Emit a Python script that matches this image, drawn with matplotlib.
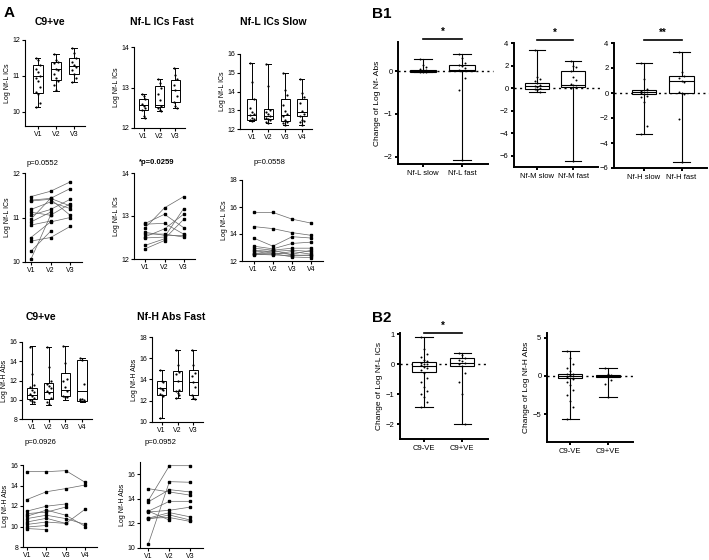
import numpy as np
import matplotlib
matplotlib.use("Agg")
import matplotlib.pyplot as plt
from matplotlib.transforms import blended_transform_factory

plt.rcParams["font.family"] = ["Liberation Sans", "DejaVu Sans"]

W, H = 709, 560

visits3 = ["V1", "V2", "V3"]
visits4 = ["V1", "V2", "V3", "V4"]

# ---------- panel A : box stats per visit = [min, q1, median, q3, max]
c9_nfl_box = [[10.12, 10.53, 10.99, 11.31, 11.50],
              [10.59, 10.87, 11.18, 11.39, 11.60],
              [10.83, 11.04, 11.27, 11.51, 11.79]]
c9_nfl_pts = [[11.50, 11.45, 11.30, 11.20, 11.10, 11.00, 10.95, 10.85, 10.70, 10.55, 10.50, 10.25, 10.12],
              [11.60, 11.45, 11.40, 11.35, 11.20, 11.15, 11.05, 10.95, 10.85, 10.75, 10.60],
              [11.79, 11.65, 11.50, 11.40, 11.30, 11.25, 11.15, 11.05, 10.95, 10.83]]

fast_nfl_box = [[12.25, 12.45, 12.56, 12.72, 12.83],
                [12.43, 12.52, 12.56, 13.03, 13.21],
                [12.50, 12.64, 12.93, 13.18, 13.47]]
fast_nfl_pts = [[12.83, 12.80, 12.72, 12.60, 12.55, 12.50, 12.45, 12.30, 12.25],
                [13.21, 13.10, 13.00, 12.85, 12.70, 12.55, 12.50, 12.45, 12.43],
                [13.47, 13.30, 13.20, 13.05, 12.95, 12.80, 12.65, 12.55, 12.50]]

slow_nfl_box = [[12.45, 12.50, 12.76, 13.60, 15.50],
                [12.30, 12.53, 12.70, 13.06, 15.45],
                [12.23, 12.45, 12.76, 13.59, 15.00],
                [12.23, 12.67, 12.88, 13.60, 14.67]]
slow_nfl_pts = [[15.50, 14.50, 13.60, 13.10, 12.90, 12.80, 12.75, 12.60, 12.55, 12.50, 12.45],
                [15.45, 14.30, 13.00, 12.90, 12.80, 12.70, 12.60, 12.55, 12.50, 12.40, 12.30],
                [15.00, 14.10, 13.80, 13.30, 12.95, 12.80, 12.70, 12.50, 12.40, 12.30, 12.23],
                [14.67, 13.90, 13.70, 13.40, 12.95, 12.80, 12.70, 12.50, 12.45, 12.40, 12.23]]

c9_nfh_box = [[9.60, 10.03, 10.54, 11.20, 15.55],
              [9.50, 10.10, 10.80, 11.70, 15.50],
              [10.00, 10.35, 11.05, 12.80, 15.55],
              [9.75, 9.85, 10.90, 14.10, 14.30]]
c9_nfh_pts = [[15.50, 12.70, 11.50, 11.30, 11.00, 10.80, 10.60, 10.40, 10.20, 10.00, 9.90, 9.80],
              [15.50, 13.40, 12.00, 11.60, 11.40, 11.20, 10.90, 10.70, 10.20, 9.80, 9.60],
              [15.55, 13.80, 12.20, 11.90, 11.30, 10.90, 10.40, 10.30, 10.30],
              [14.30, 14.10, 11.60, 10.10, 10.05, 10.00, 9.95]]

fast_nfh_box = [[10.37, 12.55, 13.23, 13.90, 14.86],
                [12.30, 12.92, 13.90, 14.77, 16.77],
                [12.20, 12.55, 13.78, 14.90, 16.77]]
fast_nfh_pts = [[14.85, 13.90, 13.80, 13.20, 13.10, 13.00, 12.60, 12.50, 12.45, 10.37],
                [16.77, 15.40, 14.70, 14.50, 13.90, 13.00, 12.90, 12.70, 12.50, 12.30],
                [16.77, 15.40, 14.60, 14.30, 13.80, 13.30, 12.50, 12.30, 12.20]]

# ---------- panel A : paired patient values (rows = patients)
c9_nfl_lines = [[11.47, 11.59, 11.80], [11.39, 11.43, 11.26], [11.37, 11.41, 11.05],
                [11.18, 11.35, 11.20], [11.12, 11.05, 11.31], [11.05, 11.18, 11.41],
                [10.96, 11.43, 11.65], [10.90, 11.12, np.nan], [10.83, 10.92, np.nan],
                [10.55, 10.90, 11.00], [10.47, 10.55, 10.80], [10.24, 10.69, np.nan],
                [10.06, 11.05, np.nan]]

fast_nfl_lines = [[12.83, 13.04, 12.73], [12.81, 12.83, 12.58], [12.73, 13.19, 13.45],
                  [12.62, 12.55, 12.55], [12.58, 12.58, 12.51], [12.52, 12.70, 13.04],
                  [12.49, 12.51, 13.17], [12.32, 12.47, 12.92], [12.24, 12.43, np.nan]]

slow_nfl_lines = [[15.60, 15.60, 15.10, 14.80], [14.55, 14.40, 14.10, 13.90],
                  [13.70, 13.10, 13.80, 13.70], [13.10, 12.90, 13.30, 13.40],
                  [12.95, 12.80, 12.95, 12.95], [12.80, 12.70, 12.80, 12.70],
                  [12.75, 12.60, 12.50, 12.80], [12.60, 12.50, 12.70, 12.50],
                  [12.50, 12.45, 12.40, 12.45], [12.45, 12.55, 12.30, 12.25],
                  [12.50, 12.80, 12.45, 12.40]]

c9_nfh_lines = [[15.35, 15.35, 15.45, 14.30], [12.63, 13.39, 13.70, 14.05],
                [11.50, 11.98, 12.20, np.nan], [11.26, 11.40, 11.90, np.nan],
                [11.00, 11.60, 11.10, 10.00], [10.77, 11.10, 10.77, 10.20],
                [10.44, 10.80, 10.30, 11.70], [10.20, 10.44, 10.30, np.nan],
                [9.95, 10.10, np.nan, np.nan], [9.80, 9.70, np.nan, np.nan]]

fast_nfh_lines = [[13.87, 16.70, 16.70], [10.35, 15.40, 15.35], [14.83, 14.56, 14.30],
                  [13.76, 14.75, 14.56], [13.00, 13.80, 13.80], [12.93, 13.07, 13.33],
                  [12.43, 12.88, 12.53], [12.35, 12.69, 12.27], [12.43, 12.48, 12.16],
                  [13.00, 12.27, np.nan]]

p_values = ["p=0.0552", "*p=0.0259", "p=0.0558", "p=0.0926", "p=0.0952"]

# ---------- panel B1 : change per year, slow vs fast
b1_groups = [["Nf-L slow", "Nf-L fast"], ["Nf-M slow", "Nf-M fast"], ["Nf-H slow", "Nf-H fast"]]
b1_box = [[[-0.03, -0.01, 0.00, 0.03, 0.28], [-2.08, 0.00, 0.02, 0.15, 0.40]],
          [[-0.38, -0.10, 0.20, 0.44, 3.35], [-6.43, 0.09, 0.30, 1.54, 2.43]],
          [[-3.25, -0.10, 0.08, 0.21, 2.40], [-5.50, 0.03, 0.93, 1.36, 3.28]]]
b1_pts = [[[0.28, 0.15, 0.10, 0.05, 0.03, 0.02, 0.01, 0.00, 0.00, -0.01, -0.02, -0.03],
           [0.40, 0.30, 0.20, 0.15, 0.12, 0.08, 0.03, 0.00, -0.15, -0.45, -2.08]],
          [[3.35, 1.00, 0.80, 0.60, 0.45, 0.30, 0.20, 0.10, 0.00, -0.10, -0.20, -0.38],
           [2.43, 2.00, 1.90, 1.50, 1.00, 0.70, 0.40, 0.30, 0.10, 0.00, -6.43]],
          [[2.40, 1.10, 0.30, 0.20, 0.10, 0.05, 0.00, -0.10, -0.20, -0.30, -0.70, -2.60, -3.25],
           [3.28, 1.70, 1.40, 1.20, 1.00, 0.90, 0.10, 0.00, -0.10, -2.10, -5.50]]]
b1_sig = ["*", "*", "**"]

# ---------- panel B2 : change by C9orf72 status
b2_groups = ["C9-VE", "C9+VE"]
b2_box = [[[-1.43, -0.27, -0.05, 0.07, 0.90], [-2.00, -0.05, 0.05, 0.20, 0.38]],
          [[-5.60, -0.25, 0.00, 0.20, 3.20], [-2.80, -0.10, 0.00, 0.10, 1.00]]]
b2_pts = [[[0.90, 0.50, 0.35, 0.25, 0.15, 0.10, 0.05, 0.02, 0.00, -0.03, -0.08, -0.12, -0.20,
            -0.30, -0.45, -0.60, -0.75, -0.90, -1.00, -1.10, -1.25, -1.43],
           [0.38, 0.30, 0.20, 0.15, 0.10, 0.05, 0.00, -0.05, -0.30, -0.60, -1.00, -2.00]],
          [[3.20, 2.30, 1.50, 1.00, 0.60, 0.30, 0.20, 0.10, 0.00, -0.10, -0.20, -0.40, -0.80,
            -1.20, -1.80, -2.50, -3.20, -4.00, -5.60],
           [1.00, 0.20, 0.10, 0.00, -0.10, -0.50, -1.00, -2.80]]]


def rect(l, t, r, b):
    return [l / W, 1 - b / H, (r - l) / W, (b - t) / H]


def style(ax, lw=0.8, size=5, pad=1.5):
    for s in ("top", "right"):
        ax.spines[s].set_visible(False)
    ax.spines["left"].set_linewidth(lw)
    ax.spines["bottom"].set_linewidth(lw)
    ax.tick_params(width=lw, length=2.5, labelsize=size, pad=pad)


def draw_box(ax, stats, pts, labels, width, capw, jit, lw=0.7, ms=2.5):
    st = [dict(whislo=s[0], q1=s[1], med=s[2], q3=s[3], whishi=s[4], label=lab)
          for s, lab in zip(stats, labels)]
    ax.bxp(st, positions=range(1, len(st) + 1), widths=width, capwidths=capw,
           showfliers=False, patch_artist=True,
           boxprops=dict(facecolor="white", edgecolor="black", linewidth=lw),
           medianprops=dict(color="black", linewidth=lw),
           whiskerprops=dict(color="black", linewidth=lw),
           capprops=dict(color="black", linewidth=lw))
    for i, p in enumerate(pts):
        off = ((np.arange(len(p)) % 3) - 1) * jit
        ax.scatter(i + 1 + off, p, s=ms, color="black", zorder=3, linewidths=0)


def draw_lines(ax, rows, labels):
    x = np.arange(1, len(labels) + 1)
    for r in rows:
        r = np.array(r, dtype=float)
        ok = ~np.isnan(r)
        ax.plot(x[ok], r[ok], color="#666666", lw=0.5, zorder=1)
        ax.plot(x[ok], r[ok], ls="none", marker="s", ms=1.6, color="black", zorder=2)
    ax.set_xticks(x)
    ax.set_xticklabels(labels)


fig = plt.figure(figsize=(W / 100, H / 100), dpi=100)

# ---------------- panel A
a_specs = [
    # rect, kind, stats/rows, pts, labels, ylim, yticks, ylabel, xlim
    ((25, 40, 85, 126), "box", c9_nfl_box, c9_nfl_pts, visits3, (9.6, 12), [10, 11, 12], "Log Nf-L ICs", (0.3, 3.6)),
    ((134, 47, 185, 128), "box", fast_nfl_box, fast_nfl_pts, visits3, (12, 14), [12, 13, 14], "Log Nf-L ICs", (0.4, 3.6)),
    ((240, 54, 312, 129), "box", slow_nfl_box, slow_nfl_pts, visits4, (12, 16), [12, 13, 14, 15, 16], "Log Nf-L ICs", (0.3, 4.6)),
    ((25, 173, 82, 262), "line", c9_nfl_lines, None, visits3, (10, 12), [10, 11, 12], "Log Nf-L ICs", (0.7, 3.6)),
    ((134, 173, 195, 259), "line", fast_nfl_lines, None, visits3, (12, 14), [12, 13, 14], "Log Nf-L ICs", (0.4, 3.6)),
    ((242, 180, 323, 261), "line", slow_nfl_lines, None, visits4, (12, 18), [12, 14, 16, 18], "Log Nf-L ICs", (0.4, 4.6)),
    ((22, 342, 92, 419), "box", c9_nfh_box, c9_nfh_pts, visits4, (8, 16), [8, 10, 12, 14, 16], "Log Nf-H Abs", (0.4, 4.6)),
    ((152, 337, 203, 422), "box", fast_nfh_box, fast_nfh_pts, visits3, (10, 18), [10, 12, 14, 16, 18], "Log Nf-H Abs", (0.4, 3.6)),
    ((23, 465, 97, 547), "line", c9_nfh_lines, None, visits4, (8, 16), [8, 10, 12, 14, 16], "Log Nf-H Abs", (0.8, 4.6)),
    ((140, 462, 203, 548), "line", fast_nfh_lines, None, visits3, (10, 17), [10, 12, 14, 16], "Log Nf-H Abs", (0.6, 3.6)),
]
for r, kind, data, pts, labs, yl, yt, ylab, xl in a_specs:
    ax = fig.add_axes(rect(*r))
    if kind == "box":
        draw_box(ax, data, pts, labs, 0.55, 0.3, 0.12, lw=0.7, ms=2.5)
    else:
        draw_lines(ax, data, labs)
    ax.set_ylim(*yl)
    ax.set_yticks(yt)
    ax.set_xlim(*xl)
    ax.set_ylabel(ylab, fontsize=5, labelpad=1)
    style(ax, lw=0.8, size=5, pad=1)

titles = [("C9+ve", 50, 22), ("Nf-L ICs Fast", 162, 22), ("Nf-L ICs Slow", 273, 22),
          ("C9+ve", 41, 317), ("Nf-H Abs Fast", 171, 317)]
for t, x, y in titles:
    fig.text(x / W, 1 - y / H, t, fontsize=7.5, fontweight="bold", ha="center", va="center")

p_pos = [(42, 163), (157, 162), (269, 162), (40, 443), (160, 442)]
for t, (x, y) in zip(p_values, p_pos):
    fig.text(x / W, 1 - y / H, t, fontsize=5.5, ha="center", va="center",
             fontweight="bold" if t.startswith("*") else "normal")

fig.text(4 / W, 1 - 13 / H, "A", fontsize=11, fontweight="bold", va="center")

# ---------------- panel B1
b1_rects = [(398, 42, 488, 164), (514, 43, 598, 167), (614, 43, 707, 168)]
b1_ylims = [(-2.17, 0.68), (-7, 4), (-6, 4)]
b1_yticks = [[-2, -1, 0], [-6, -4, -2, 0, 2, 4], [-6, -4, -2, 0, 2, 4]]
b1_xlims = [(0.36, 2.67), (0.36, 2.69), (0.2, 2.68)]
for i in range(3):
    ax = fig.add_axes(rect(*b1_rects[i]))
    ax.axhline(0, color="black", ls=(0, (1.5, 2.5)), lw=1.0, zorder=0, clip_on=False,
               xmax=1.05)
    draw_box(ax, b1_box[i], b1_pts[i], b1_groups[i], 0.65, 0.45, 0.07, lw=0.8, ms=2)
    ax.set_ylim(*b1_ylims[i])
    ax.set_yticks(b1_yticks[i])
    ax.set_xlim(*b1_xlims[i])
    style(ax, lw=1.4, size=5.5)
    tr = blended_transform_factory(ax.transData, ax.transAxes)
    ax.plot([1, 2], [1.025, 1.025], color="black", lw=1.2, transform=tr, clip_on=False)
    ax.text(1.5, 1.045, b1_sig[i], transform=tr, ha="center", va="bottom", fontsize=7,
            fontweight="bold")
    if i == 0:
        ax.set_ylabel("Change of Log Nf- Abs", fontsize=6, labelpad=2)
fig.text(372 / W, 1 - 14 / H, "B1", fontsize=11, fontweight="bold", va="center")

# ---------------- panel B2
b2_rects = [(400, 333, 488, 439), (547, 333, 633, 442)]
b2_ylims = [(-2.5, 1.05), (-8.6, 5.6)]
b2_yticks = [[-2, -1, 0, 1], [-5, 0, 5]]
b2_ylabels = ["Change of Log Nf-L ICs", "Change of Log Nf-H Abs"]
b2_xlims = [(0.37, 2.68), (0.39, 2.66)]
for i in range(2):
    ax = fig.add_axes(rect(*b2_rects[i]))
    ax.axhline(0, color="black", ls=(0, (1.5, 2.5)), lw=1.0, zorder=0)
    draw_box(ax, b2_box[i], b2_pts[i], b2_groups, 0.65, 0.45, 0.07, lw=0.8, ms=2)
    ax.set_ylim(*b2_ylims[i])
    ax.set_yticks(b2_yticks[i])
    ax.set_xlim(*b2_xlims[i])
    ax.set_ylabel(b2_ylabels[i], fontsize=6, labelpad=2)
    style(ax, lw=1.4, size=5.5)
    if i == 0:
        tr = blended_transform_factory(ax.transData, ax.transAxes)
        ax.plot([1, 2], [1.0, 1.0], color="black", lw=1.2, transform=tr, clip_on=False)
        ax.text(1.5, 1.02, "*", transform=tr, ha="center", va="bottom", fontsize=7,
                fontweight="bold")
fig.text(372 / W, 1 - 318 / H, "B2", fontsize=11, fontweight="bold", va="center")

fig.savefig("out.png", dpi=100)
